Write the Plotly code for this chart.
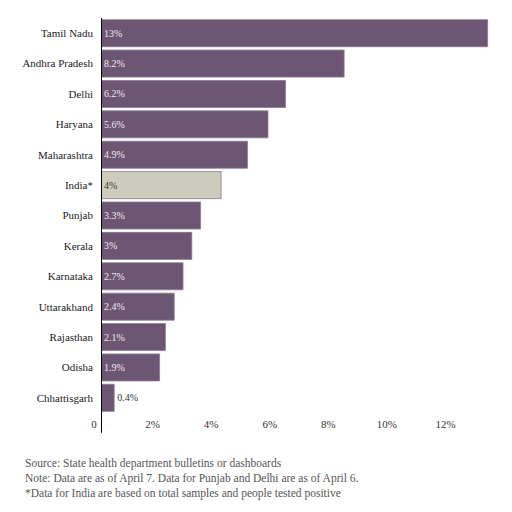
import plotly.graph_objects as go

states = ["Tamil Nadu", "Andhra Pradesh", "Delhi", "Haryana", "Maharashtra", "India*", "Punjab",
          "Kerala", "Karnataka", "Uttarakhand", "Rajasthan", "Odisha", "Chhattisgarh"]
positivity = [13.2, 8.3, 6.3, 5.7, 5.0, 4.1, 3.4, 3.1, 2.8, 2.5, 2.2, 2.0, 0.45]
labels = ["13%", "8.2%", "6.2%", "5.6%", "4.9%", "4%", "3.3%", "3%", "2.7%", "2.4%", "2.1%", "1.9%", "0.4%"]
tick_vals = [0, 2, 4, 6, 8, 10, 12]
tick_text = ["0", "2%", "4%", "6%", "8%", "10%", "12%"]
notes = ["Source: State health department bulletins or dashboards",
         "Note: Data are as of April 7. Data for Punjab and Delhi are as of April 6.",
         "*Data for India are based on total samples and people tested positive"]

PURPLE = "#6d5673"
GREY = "#cdccbc"
FONT = "Liberation Serif"


def main():
    colors = [GREY if s == "India*" else PURPLE for s in states]
    text_colors = ["#3a3a3a" if s == "India*" else "#efe8f2" for s in states]
    positions = ["outside" if v < 1 else "inside" for v in positivity]
    text_colors[-1] = "#333333"

    fig = go.Figure()
    fig.add_trace(go.Bar(
        y=states, x=positivity, orientation="h",
        marker=dict(color=colors, line=dict(color="#8d7a92", width=0.8)),
        text=labels, textposition=positions, insidetextanchor="start",
        textfont=dict(family=FONT, size=10, color=text_colors),
        cliponaxis=False, hoverinfo="skip",
    ))

    # axis line runs a bit below the plot, past the tick labels
    fig.add_shape(type="line", xref="x", yref="paper", x0=0, x1=0, y0=-0.05, y1=1.0,
                  line=dict(color="black", width=2))

    for i, note in enumerate(notes):
        fig.add_annotation(text=note, xref="paper", yref="paper", x=-0.2, y=-0.127 - i * 0.038,
                           xanchor="left", yanchor="middle", showarrow=False,
                           font=dict(family=FONT, size=11.5, color="#555555"))

    fig.update_layout(
        width=512, height=512,
        margin=dict(l=93, r=30, t=10, b=107),
        paper_bgcolor="white", plot_bgcolor="white",
        bargap=0.11, showlegend=False,
        font=dict(family=FONT, size=11, color="#222222"),
        xaxis=dict(range=[0, 13.28], tickvals=tick_vals, ticktext=tick_text, showgrid=False,
                   zeroline=False, showline=False, ticklabelshift=-7, ticklabelstandoff=3,
                   tickfont=dict(family=FONT, size=11, color="#333333")),
        yaxis=dict(autorange="reversed", showgrid=False, zeroline=False, showline=False,
                   ticklabelstandoff=7, tickfont=dict(family=FONT, size=11, color="#222222")),
    )

    fig.write_html("out.html")


if __name__ == '__main__':
    main()
